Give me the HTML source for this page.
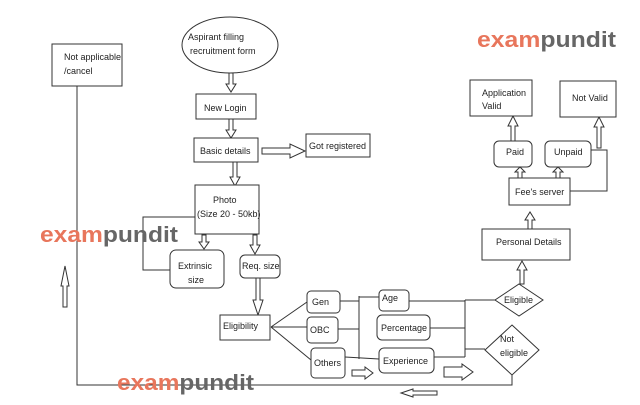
<!DOCTYPE html>
<html><head><meta charset="utf-8"><style>
html,body{margin:0;padding:0;background:#fff;}
svg{display:block;}
text{font-family:"Liberation Sans",sans-serif;font-size:9px;fill:#222;}
.wm{font-size:22px;font-weight:bold;}
</style></head><body>
<svg width="640" height="405" viewBox="0 0 640 405" xmlns="http://www.w3.org/2000/svg">
<g fill="#fff" stroke="#333" stroke-width="1">
<!-- left box and loop -->
<rect x="52" y="44" width="70" height="42"/>
<polyline points="77,86 77,385 512,385 512,374" fill="none"/>
<polygon points="63,307 63,286 61,286 65,266 69,286 67,286 67,307"/>
<!-- ellipse -->
<ellipse cx="230" cy="45" rx="48" ry="28"/>
<polygon points="229,73 229,84 226,84 231,92 236,84 233,84 233,73"/>
<rect x="196" y="94" width="60" height="25"/>
<polygon points="229,119 229,130 226,130 231,138 236,130 233,130 233,119"/>
<rect x="194" y="138" width="64" height="24"/>
<polygon points="262,148 290,148 290,144 305,151 290,158 290,154 262,154"/>
<rect x="306" y="134" width="64" height="23"/>
<polygon points="233,162 233,177 230,177 235,186 240,177 237,177 237,162"/>
<rect x="195" y="185" width="64" height="49"/>
<polyline points="195,217 143,217 143,270 170,270" fill="none"/>
<rect x="170" y="250" width="54" height="38" rx="6"/>
<polygon points="202,235 202,242 199,242 204,249 209,242 206,242 206,235"/>
<rect x="240" y="255" width="40" height="23" rx="5"/>
<polygon points="253,235 253,245 250,245 255,254 260,245 257,245 257,235"/>
<polygon points="256,278 256,300 253,300 258,315 263,300 260,300 260,278"/>
<rect x="220" y="315" width="50" height="25"/>
<polyline points="271,327 307,302" fill="none"/>
<polyline points="271,327 307,327" fill="none"/>
<polyline points="271,327 311,360" fill="none"/>
<rect x="307" y="291" width="33" height="22" rx="4"/>
<rect x="307" y="317" width="31" height="26" rx="4"/>
<rect x="311" y="348" width="34" height="30" rx="4"/>
<polyline points="340,301 359,301" fill="none"/>
<polyline points="338,329 359,329" fill="none"/>
<polyline points="345,357 379,359" fill="none"/>
<polyline points="359,296 359,359" fill="none"/>
<polyline points="359,297 379,297" fill="none"/>
<rect x="379" y="290" width="30" height="21" rx="4"/>
<rect x="377" y="315" width="53" height="25" rx="5"/>
<rect x="379" y="348" width="55" height="25" rx="5"/>
<polyline points="409,301 465,301" fill="none"/>
<polyline points="430,328 465,328" fill="none"/>
<polyline points="434,357 465,357" fill="none"/>
<polyline points="465,300 465,357" fill="none"/>
<polyline points="465,300 495,300" fill="none"/>
<polyline points="465,349 485,349" fill="none"/>
<polygon points="519,284 543,300 519,316 495,300"/>
<polygon points="512,325 539,350 512,375 485,350"/>
<polygon points="352,370 365,370 365,367 373,373 365,379 365,376 352,376"/>
<polygon points="444,367 462,367 462,364 473,372 462,380 462,377 444,377"/>
<polygon points="437,391 413,391 413,389 401,393 413,397 413,395 437,395"/>
<!-- right column -->
<polygon points="520,284 520,270 517,270 522,261 527,270 524,270 524,284"/>
<rect x="482" y="229" width="88" height="31"/>
<polygon points="528,229 528,220 525,220 530,212 535,220 532,220 532,229"/>
<rect x="509" y="178" width="61" height="27"/>
<polyline points="570,191 607,191 607,150 591,150" fill="none"/>
<rect x="494" y="141" width="38" height="26" rx="5"/>
<rect x="545" y="141" width="46" height="26" rx="5"/>
<polygon points="518,178 518,172 515,172 520,167 525,172 522,172 522,178"/>
<polygon points="556,178 556,172 553,172 558,167 563,172 560,172 560,178"/>
<polygon points="511,141 511,126 508,126 513,116 518,126 515,126 515,141"/>
<rect x="470" y="80" width="62" height="36"/>
<polygon points="597,148 597,127 594,127 599,117 604,127 601,127 601,148"/>
<rect x="560" y="81" width="56" height="36"/>
</g>
<text x="188" y="40">Aspirant filling</text>
<text x="190" y="54">recruitment form</text>
<text x="64" y="60">Not applicable</text>
<text x="64" y="74">/cancel</text>
<text x="204" y="111">New Login</text>
<text x="200" y="154">Basic details</text>
<text x="309" y="149">Got registered</text>
<text x="213" y="203">Photo</text>
<text x="197" y="217">(Size 20 - 50kb)</text>
<text x="178" y="269">Extrinsic</text>
<text x="188" y="283">size</text>
<text x="242" y="269">Req. size</text>
<text x="223" y="329">Eligibility</text>
<text x="312" y="305">Gen</text>
<text x="310" y="333">OBC</text>
<text x="314" y="366">Others</text>
<text x="382" y="301">Age</text>
<text x="381" y="331">Percentage</text>
<text x="383" y="364">Experience</text>
<text x="504" y="303">Eligible</text>
<text x="500" y="342">Not</text>
<text x="500" y="356">eligible</text>
<text x="496" y="245">Personal Details</text>
<text x="515" y="195">Fee's server</text>
<text x="506" y="155">Paid</text>
<text x="554" y="155">Unpaid</text>
<text x="482" y="96">Application</text>
<text x="482" y="109">Valid</text>
<text x="572" y="101">Not Valid</text>
<g class="wm">
<text class="wm" x="477" y="47" textLength="139" lengthAdjust="spacingAndGlyphs"><tspan fill="#e8765c">exam</tspan><tspan fill="#666">pundit</tspan></text>
<text class="wm" x="40" y="242" textLength="138" lengthAdjust="spacingAndGlyphs"><tspan fill="#e8765c">exam</tspan><tspan fill="#666">pundit</tspan></text>
<text class="wm" x="117" y="390" textLength="137" lengthAdjust="spacingAndGlyphs"><tspan fill="#e8765c">exam</tspan><tspan fill="#666">pundit</tspan></text>
</g>
</svg>
</body></html>
